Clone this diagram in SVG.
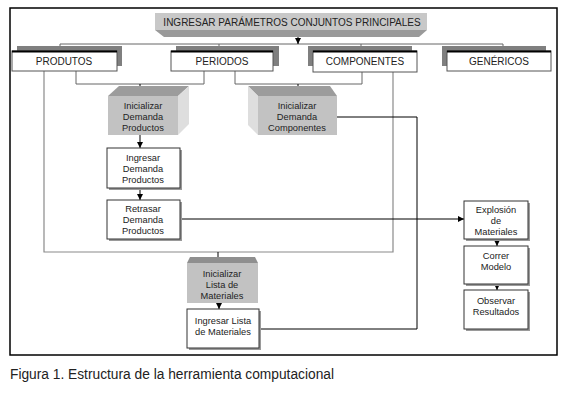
<svg xmlns="http://www.w3.org/2000/svg" width="561" height="401" viewBox="0 0 561 401">
<defs>
<marker id="ah" markerUnits="userSpaceOnUse" markerWidth="6" markerHeight="6" refX="6" refY="3" orient="auto">
<path d="M0,0 L6,3 L0,6 z" fill="#000"/>
</marker>
<style>
text{font-family:"Liberation Sans",Arial,sans-serif;fill:#222;text-anchor:middle}
.t10{font-size:10px}
.t9{font-size:9.3px}
.sh{fill:#7f7f7f}
.wb{fill:#fff;stroke:#555;stroke-width:1}
.tl{stroke:#000;stroke-width:2}
.box{fill:#fff;stroke:#333;stroke-width:1}
.bs{fill:#9a9a9a}
.front{fill:#c2c2c2}
.topf{fill:#9c9c9c}
.side{fill:#dedede}
.gl{fill:none;stroke:#666;stroke-width:1}
.ll{fill:none;stroke:#8a8a8a;stroke-width:1.2}
.bl{fill:none;stroke:#000;stroke-width:1}
</style>
</defs>
<rect x="0" y="0" width="561" height="401" fill="#fff"/>
<rect x="10" y="8" width="547" height="347" fill="none" stroke="#000" stroke-width="1.5"/>

<g id="title">
<rect x="155" y="13" width="272" height="17" fill="#c8c8c8"/>
<polygon points="155,30 427,30 419,37 164,37" fill="#9a9a9a"/>
<text class="t10" x="292" y="25.5">INGRESAR PARÁMETROS CONJUNTOS PRINCIPALES</text>
</g>

<g id="connectors">
<line class="gl" x1="60" y1="44" x2="503" y2="44"/>
<line class="gl" x1="60" y1="44" x2="60" y2="51"/>
<line class="gl" x1="219" y1="44" x2="219" y2="51"/>
<line class="gl" x1="361" y1="44" x2="361" y2="51"/>
<line class="gl" x1="503" y1="44" x2="503" y2="51"/>
<polyline class="gl" points="76,71 76,84 204,84 204,71"/>
<polyline class="gl" points="235,71 235,84 362,84 362,72"/>
<polyline class="ll" points="44,71 44,252 393,252 393,72"/>
<polyline class="bl" points="337,117 417,117 417,329 259,329"/>
<line class="bl" x1="298" y1="37" x2="298" y2="44" marker-end="url(#ah)"/>
<line class="bl" x1="140" y1="84" x2="140" y2="96" marker-end="url(#ah)"/>
<line class="bl" x1="298" y1="84" x2="298" y2="96" marker-end="url(#ah)"/>
<line class="bl" x1="140" y1="135" x2="140" y2="148" marker-end="url(#ah)"/>
<line class="bl" x1="140" y1="188" x2="140" y2="200" marker-end="url(#ah)"/>
<line class="bl" x1="180" y1="219" x2="464" y2="219" marker-end="url(#ah)"/>
<line class="bl" x1="218" y1="252" x2="218" y2="263" marker-end="url(#ah)"/>
<line class="bl" x1="219" y1="303" x2="219" y2="309" marker-end="url(#ah)"/>
<line class="bl" x1="497" y1="239" x2="497" y2="246" marker-end="url(#ah)"/>
<line class="bl" x1="497" y1="284" x2="497" y2="290" marker-end="url(#ah)"/>
</g>

<g id="produtos">
<rect class="sh" x="17" y="46" width="105" height="20"/>
<rect class="wb" x="12" y="51" width="105" height="20"/>
<line class="tl" x1="12" y1="51.5" x2="117" y2="51.5"/>
<text class="t10" x="64" y="64.5">PRODUTOS</text>
</g>
<g id="periodos">
<rect class="sh" x="176" y="46" width="103" height="20"/>
<rect class="wb" x="171" y="51" width="102" height="20"/>
<line class="tl" x1="171" y1="51.5" x2="273" y2="51.5"/>
<text class="t10" x="222" y="64.5">PERIODOS</text>
</g>
<g id="componentes">
<rect class="sh" x="308" y="46" width="104" height="20"/>
<rect class="wb" x="313" y="51" width="104" height="21"/>
<line class="tl" x1="313" y1="51.5" x2="417" y2="51.5"/>
<text class="t10" x="365" y="65">COMPONENTES</text>
</g>
<g id="genericos">
<rect class="sh" x="442" y="46" width="104" height="20"/>
<rect class="wb" x="447" y="51" width="104" height="20"/>
<line class="tl" x1="447" y1="51.5" x2="551" y2="51.5"/>
<text class="t10" x="499" y="64.5">GENÉRICOS</text>
</g>

<g id="ini-dem-prod">
<polygon class="topf" points="108,96 119,86 189,86 178,96"/>
<polygon class="side" points="178,96 189,86 189,124 178,135"/>
<rect class="front" x="108" y="96" width="70" height="39"/>
<text class="t9" x="143" y="109">Inicializar</text>
<text class="t9" x="143" y="120">Demanda</text>
<text class="t9" x="143" y="131">Productos</text>
</g>

<g id="ini-dem-comp">
<polygon class="topf" points="248,86 330,86 337,96 258,96"/>
<polygon class="side" points="248,86 258,96 258,135 248,125"/>
<rect class="front" x="258" y="96" width="79" height="39"/>
<text class="t9" x="297" y="109">Inicializar</text>
<text class="t9" x="297" y="120">Demanda</text>
<text class="t9" x="297" y="131">Componentes</text>
</g>

<g id="ing-dem-prod">
<rect class="bs" x="109" y="150" width="73" height="40"/>
<rect class="box" x="107" y="148" width="73" height="40"/>
<text class="t9" x="143" y="161">Ingresar</text>
<text class="t9" x="143" y="172">Demanda</text>
<text class="t9" x="143" y="183">Productos</text>
</g>

<g id="retrasar">
<rect class="bs" x="109" y="202" width="73" height="39"/>
<rect class="box" x="107" y="200" width="73" height="39"/>
<text class="t9" x="143" y="212">Retrasar</text>
<text class="t9" x="143" y="223">Demanda</text>
<text class="t9" x="143" y="234">Productos</text>
</g>

<g id="ini-lista">
<polygon points="190,257 255,257 258,263 187,263" fill="#8f8f8f"/>
<rect class="front" x="187" y="263" width="71" height="40"/>
<text class="t9" x="222" y="277">Inicializar</text>
<text class="t9" x="222" y="288">Lista de</text>
<text class="t9" x="222" y="299">Materiales</text>
</g>

<g id="ing-lista">
<rect class="bs" x="189" y="311" width="72" height="39"/>
<rect class="box" x="187" y="309" width="72" height="39"/>
<text class="t9" x="223" y="324">Ingresar Lista</text>
<text class="t9" x="223" y="335">de Materiales</text>
</g>

<g id="explosion">
<rect class="bs" x="466" y="203" width="64" height="38"/>
<rect class="box" x="464" y="201" width="64" height="38"/>
<text class="t9" x="496" y="213">Explosión</text>
<text class="t9" x="496" y="224">de</text>
<text class="t9" x="496" y="235">Materiales</text>
</g>

<g id="correr">
<rect class="bs" x="466" y="248" width="64" height="38"/>
<rect class="box" x="464" y="246" width="64" height="38"/>
<text class="t9" x="496" y="259">Correr</text>
<text class="t9" x="496" y="270">Modelo</text>
</g>

<g id="observar">
<rect class="bs" x="466" y="292" width="64" height="39"/>
<rect class="box" x="464" y="290" width="64" height="39"/>
<text class="t9" x="496" y="304">Observar</text>
<text class="t9" x="496" y="315">Resultados</text>
</g>

<text x="10" y="379" style="font-size:14px;text-anchor:start;fill:#222" textLength="324" lengthAdjust="spacingAndGlyphs">Figura 1. Estructura de la herramienta computacional</text>
</svg>
